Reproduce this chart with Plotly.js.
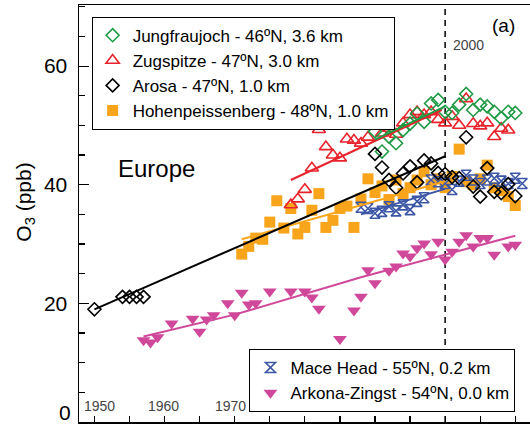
<!DOCTYPE html>
<html>
<head>
<meta charset="utf-8">
<script src="https://cdn.plot.ly/plotly-3.0.1.min.js"></script>
<style>html,body{margin:0;padding:0;background:#fff;}</style>
</head>
<body>
<div id="chart" style="width:530px;height:426px;"></div>
<script>
// ---- Data ----
const jungYears = [1990,1991,1992,1993,1994,1995,1996,1997,1998,1999,2000,2001,2002,2003,2004,2005,2006,2007,2008,2009,2010];
const jungO3    = [49.0,45.6,48.1,47.0,49.2,50.3,52.0,50.6,53.7,54.3,52.3,52.1,53.5,55.3,52.6,53.5,53.2,52.3,51.2,52.3,52.1];

const zugYears = [1978,1979,1980,1981,1982,1983,1984,1985,1986,1987,1988,1989,1990,1991,1992,1993,1994,1995,1996,1997,1998,1999,2000,2001,2002,2003,2004,2005,2006,2007,2008,2009];
const zugO3    = [36.6,37.6,39.2,42.8,49.3,46.4,45.0,44.5,47.7,47.5,47.0,48.0,50.5,48.7,49.5,48.5,50.4,51.8,52.3,51.8,52.3,51.0,50.4,51.5,50.0,54.5,50.3,49.9,50.4,48.1,49.5,49.2];

const arosaYears = [1950,1954,1955,1956,1957,1990,1991,1992,1993,1994,1995,1996,1997,1998,1999,2000,2001,2002,2003,2004,2005,2006,2007,2008,2009,2010];
const arosaO3    = [19.0,21.1,21.1,21.1,21.1,45.2,42.9,40.8,39.5,41.9,43.1,40.4,44.1,43.6,42.0,41.8,41.3,41.1,48.0,39.7,38.0,42.8,38.8,38.6,40.1,38.1];

const hohenYears = [1971,1972,1973,1974,1975,1976,1977,1978,1979,1980,1981,1982,1983,1984,1985,1986,1987,1988,1989,1990,1991,1992,1993,1994,1995,1996,1997,1998,1999,2000,2001,2002,2003,2004,2005,2006,2007,2008,2009,2010];
const hohenO3    = [28.3,29.6,31.0,30.8,33.7,37.3,32.7,36.0,31.7,32.8,35.7,38.5,32.8,34.0,36.0,36.4,32.8,37.6,41.0,38.7,39.8,37.5,40.8,38.5,39.5,40.8,42.2,40.0,41.0,39.5,41.4,46.0,40.5,40.0,41.0,43.3,39.5,39.0,38.0,36.5];

const maceYears = [1988,1989,1990,1991,1992,1993,1994,1995,1996,1997,1998,1999,2000,2001,2002,2003,2004,2005,2006,2007,2008,2009,2010,2011];
const maceO3    = [36.2,36.0,35.2,35.5,36.3,35.6,36.6,35.8,37.2,37.8,40.8,40.5,40.2,39.2,40.6,41.6,40.8,40.2,40.8,41.1,40.6,40.2,41.1,40.2];

const arkYears = [1957,1958,1959,1961,1964,1965,1966,1967,1969,1970,1971,1972,1973,1975,1978,1980,1981,1982,1985,1987,1988,1989,1990,1992,1993,1994,1995,1996,1997,1998,1999,2000,2001,2002,2003,2004,2005,2006,2007,2009,2010];
const arkO3    = [13.8,13.4,14.3,16.6,17.4,15.2,17.3,18.0,20.0,18.0,21.8,19.8,20.0,22.0,22.0,22.0,21.0,19.1,14.0,18.8,21.1,25.6,23.4,25.5,26.2,28.4,27.9,29.3,30.1,28.3,30.4,27.4,28.7,30.4,31.5,29.6,31.0,31.0,28.2,29.6,29.9];

// trend lines (end points)
const arosaTrendYears = [1950, 2000];  const arosaTrend = [19.0, 44.8];
const zugTrendYears   = [1978, 1999.5]; const zugTrend = [40.8, 52.6];
const jungTrendYears  = [1990, 2000];  const jungTrend  = [47.6, 53.2];
const hohenTrendYears = [1971, 2000];  const hohenTrend = [30.8, 40.6];
const maceTrendYears  = [1988, 2000];  const maceTrend  = [35.0, 39.3];
const arkTrendYears   = [1957, 1970, 1988, 2010]; const arkTrend = [14.4, 18.1, 24.4, 31.4];

// y tick labels ("0" is drawn separately so it stays inside the picture)
const yTickVals = [0, 20, 40, 60];
const yTickText = ['', '20', '40', '60'];
const yZeroLabel = '0';

const names = {
  jung: 'Jungfraujoch - 46ºN, 3.6 km',
  zug: 'Zugspitze - 47ºN, 3.0 km',
  arosa: 'Arosa - 47ºN, 1.0 km',
  hohen: 'Hohenpeissenberg - 48ºN, 1.0 km',
  mace: 'Mace Head - 55ºN, 0.2 km',
  ark: 'Arkona-Zingst - 54ºN, 0.0 km'
};
const xLabels = ['1950','1960','1970'];
const xLabelYears = [1950,1960,1970];

// ---- Colours ----
const cGreen = '#1f9a45', cRed = '#e8232b', cBlack = '#000000', cOrange = '#f8a51c', cBlue = '#3c56a6', cMag = '#d0489a';

function mk(x, y, name, symbol, color, size, legend, rank, filled) {
  return {
    x: x, y: y, type: 'scatter', mode: 'markers', name: name,
    legend: legend, legendrank: rank,
    marker: filled ? {symbol: symbol, color: color, size: size, line: {width: 0}}
                   : {symbol: symbol, color: color, size: size, line: {width: 1.6, color: color}},
    cliponaxis: false
  };
}
function ln(x, y, color, w) {
  return {x: x, y: y, type: 'scatter', mode: 'lines', showlegend: false, hoverinfo: 'skip',
          line: {color: color, width: w}};
}

const traces = [
  mk(arkYears, arkO3, names.ark, 'triangle-down', cMag, 12, 'legend2', 2, true),
  mk(hohenYears, hohenO3, names.hohen, 'square', cOrange, 11, 'legend', 4, true),
  mk(maceYears, maceO3, names.mace, 'hourglass-open', cBlue, 10, 'legend2', 1, false),
  mk(zugYears, zugO3, names.zug, 'triangle-up-open', cRed, 11.5, 'legend', 2, false),
  mk(jungYears, jungO3, names.jung, 'diamond-open', cGreen, 10, 'legend', 1, false),
  mk(arosaYears, arosaO3, names.arosa, 'diamond-open', cBlack, 10, 'legend', 3, false),
  ln(arkTrendYears, arkTrend, cMag, 2),
  ln(hohenTrendYears, hohenTrend, cOrange, 2),
  ln(maceTrendYears, maceTrend, cBlue, 2),
  ln(zugTrendYears, zugTrend, cRed, 2),
  ln(jungTrendYears, jungTrend, cGreen, 2),
  ln(arosaTrendYears, arosaTrend, cBlack, 2)
];

const annotations = [
  {text: 'O<sub>3</sub> (ppb)', textangle: -90, xref: 'paper', yref: 'paper', x: -0.12, y: 0.528,
   xanchor: 'center', yanchor: 'middle', showarrow: false, font: {size: 21, color: '#000'}},
  {text: 'Europe', xref: 'paper', yref: 'paper', x: 0.171, y: 0.609, xanchor: 'center', yanchor: 'middle',
   showarrow: false, font: {size: 24, color: '#000'}},
  {text: '(a)', xref: 'paper', yref: 'paper', x: 0.942, y: 0.952, xanchor: 'center', yanchor: 'middle',
   showarrow: false, font: {size: 19, color: '#000'}},
  {text: '2000', xref: 'x', yref: 'paper', x: 2000, y: 0.904, xanchor: 'left', yanchor: 'middle', xshift: 6,
   showarrow: false, font: {size: 14, color: '#444'}},
  {text: yZeroLabel, xref: 'paper', yref: 'paper', x: -0.015, y: 0.0, xanchor: 'right', yanchor: 'bottom',
   yshift: -3, borderpad: 0, showarrow: false, font: {size: 21, color: '#000'}}
];
const shifts = [5, -1, -4];
xLabels.forEach((t, i) => annotations.push({
  text: t, xref: 'x', yref: 'paper', x: xLabelYears[i], y: 0.038, xshift: shifts[i],
  xanchor: 'center', yanchor: 'middle', showarrow: false, font: {size: 14, color: '#444'}
}));

const layout = {
  width: 530, height: 426,
  margin: {l: 79, r: 0, t: 5, b: 4, pad: 0},
  paper_bgcolor: '#fff', plot_bgcolor: '#fff',
  font: {family: 'Arial, "Liberation Sans", sans-serif', color: '#000'},
  showlegend: true,
  xaxis: {range: [1947.8, 2012.1], showgrid: false, zeroline: false, showline: true, linecolor: '#000',
          linewidth: 1.5, mirror: true, ticks: 'inside', tick0: 1950, dtick: 5, ticklen: 6, tickwidth: 1.2,
          tickcolor: '#000', showticklabels: false},
  yaxis: {range: [0, 70.3], showgrid: false, zeroline: false, showline: true, linecolor: '#000', linewidth: 1.5,
          ticks: 'inside', tickmode: 'array', tickvals: yTickVals, ticktext: yTickText,
          ticklen: 10, tickwidth: 1.2, tickcolor: '#000',
          tickfont: {size: 21, color: '#000'}, ticklabelstandoff: 6,
          minor: {tickmode: 'linear', tick0: 0, dtick: 5, ticks: 'inside', ticklen: 6, tickwidth: 1.2, tickcolor: '#000', showgrid: false}},
  legend: {x: 0.028, y: 0.972, xanchor: 'left', yanchor: 'top', bgcolor: '#fff', bordercolor: '#000',
           borderwidth: 1, font: {size: 17, color: '#000'}, tracegroupgap: 0},
  legend2: {x: 0.378, y: 0.024, xanchor: 'left', yanchor: 'bottom', bgcolor: '#fff', bordercolor: '#000',
            borderwidth: 1, font: {size: 17, color: '#000'}, tracegroupgap: 0},
  shapes: [{type: 'line', xref: 'x', yref: 'paper', x0: 2000, x1: 2000, y0: 0, y1: 1, layer: 'below',
            line: {color: '#000', width: 1.5, dash: '6px,5px'}}],
  annotations: annotations
};

Plotly.newPlot('chart', traces, layout, {displayModeBar: false, staticPlot: true});
</script>
</body>
</html>
